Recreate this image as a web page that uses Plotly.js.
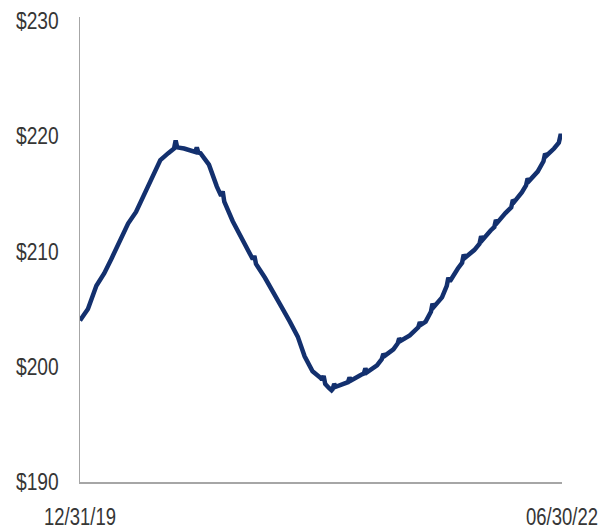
<!DOCTYPE html>
<html>
<head>
<meta charset="utf-8">
<script src="https://cdn.plot.ly/plotly-3.0.1.min.js"></script>
<style>html,body{margin:0;padding:0;background:#fff;}#chart{width:605px;height:531px;}</style>
</head>
<body>
<div id="chart"></div>
<script>
const dates = [
  '2019-12-31','2020-01-15','2020-01-31','2020-02-15','2020-02-29','2020-03-15','2020-03-31',
  '2020-04-15','2020-04-30','2020-05-15','2020-05-31','2020-06-15','2020-06-26','2020-06-29',
  '2020-07-02','2020-07-15','2020-07-31','2020-08-05','2020-08-08','2020-08-11','2020-08-15',
  '2020-08-31','2020-09-15','2020-09-23','2020-09-26','2020-09-29','2020-10-15','2020-10-31',
  '2020-11-15','2020-11-22','2020-11-25','2020-11-28','2020-12-15','2020-12-31','2021-01-15',
  '2021-01-31','2021-02-15','2021-02-28','2021-03-15','2021-03-31','2021-04-02','2021-04-05',
  '2021-04-08','2021-04-15','2021-04-20','2021-04-22','2021-04-25','2021-04-28','2021-05-15',
  '2021-05-21','2021-05-24','2021-05-27','2021-06-15','2021-06-20','2021-06-23','2021-06-26',
  '2021-07-15','2021-07-24','2021-07-27','2021-07-30','2021-08-15','2021-08-23','2021-08-26',
  '2021-08-29','2021-09-15','2021-09-30','2021-10-01','2021-10-04','2021-10-07','2021-10-15',
  '2021-10-25','2021-10-28','2021-10-31','2021-11-15','2021-11-24','2021-11-27','2021-11-30',
  '2021-12-15','2021-12-23','2021-12-26','2021-12-29','2022-01-15','2022-01-25','2022-01-28',
  '2022-01-31','2022-02-15','2022-02-22','2022-02-25','2022-02-28','2022-03-15','2022-03-26',
  '2022-03-29','2022-04-01','2022-04-15','2022-04-23','2022-04-26','2022-04-29','2022-05-15',
  '2022-05-26','2022-05-29','2022-06-01','2022-06-15','2022-06-24','2022-06-27','2022-06-30'
];
const prices = [
  204.0, 205.0, 207.0, 208.1, 209.4, 210.9, 212.4,
  213.4, 214.9, 216.5, 217.9, 218.5, 218.9, 219.6,
  219.0, 218.9, 218.7, 218.6, 219.0, 218.55, 218.5,
  217.5, 215.6, 214.8, 215.2, 214.3, 212.6, 211.2,
  209.8, 209.3, 209.6, 208.9, 207.7, 206.5, 205.2,
  203.9, 202.6, 200.9, 199.6, 199.0, 198.85, 199.2,
  198.5, 198.15, 197.95, 198.05, 198.5, 198.25, 198.5,
  198.65, 199.05, 198.8, 199.3, 199.4, 199.85, 199.5,
  200.1, 200.65, 201.1, 200.95, 201.5, 202.0, 202.45,
  202.25, 202.7, 203.3, 203.4, 203.85, 203.65, 203.9,
  204.75, 205.45, 205.2, 206.0, 207.0, 207.7, 207.4,
  208.5, 209.0, 209.7, 209.45, 210.1, 210.65, 211.3,
  211.0, 211.8, 212.1, 212.7, 212.5, 213.3, 213.8,
  214.45, 214.3, 215.1, 215.7, 216.3, 216.1, 216.9,
  217.8, 218.45, 218.3, 218.9, 219.4, 220.0, 220.0
];
const yTickValues = [190, 200, 210, 220, 230];
const yTickLabels = ['$190', '$200', '$210', '$220', '$230'];
const xTickValues = ['2019-12-31', '2022-06-30'];
const xTickLabels = ['12/31/19', '06/30/22'];

const fontFam = '"Liberation Sans", Arial, sans-serif';
const tickFont = {family: fontFam, size: 24, color: '#363636'};

Plotly.newPlot('chart', [{
  x: dates,
  y: prices,
  type: 'scatter',
  mode: 'lines',
  line: {color: '#13306e', width: 4.5},
  hoverinfo: 'skip'
}], {
  width: 605, height: 531,
  margin: {l: 80, r: 43, t: 17, b: 49, pad: 0},
  paper_bgcolor: '#ffffff', plot_bgcolor: '#ffffff',
  showlegend: false,
  font: tickFont,
  xaxis: {
    type: 'date',
    range: ['2019-12-31', '2022-06-30 01:00'],
    tickvals: xTickValues, ticktext: xTickLabels,
    showgrid: false, zeroline: false,
    showline: true, linecolor: '#a6a6a6', linewidth: 1.5,
    ticks: 'outside', ticklen: 13, tickcolor: 'rgba(0,0,0,0)',
    ticklabeloverflow: 'allow',
    tickfont: tickFont
  },
  yaxis: {
    range: [190, 230.3],
    tickvals: yTickValues, ticktext: yTickLabels,
    showgrid: false, zeroline: false,
    showline: true, linecolor: '#a6a6a6', linewidth: 1.5,
    ticks: 'outside', ticklen: 15, tickcolor: 'rgba(0,0,0,0)',
    tickfont: tickFont
  }
}, {staticPlot: true, displayModeBar: false}).then(function (gd) {
  // horizontally condense tick labels (the original uses a narrow face)
  function condense(sel, s, anchorFrac) {
    gd.querySelectorAll(sel).forEach(function (t) {
      const bb = t.getBBox();
      const cx = bb.x + bb.width * anchorFrac;
      const prev = t.getAttribute('transform') || '';
      t.setAttribute('transform', prev + ' translate(' + cx + ',0) scale(' + s + ',1) translate(' + (-cx) + ',0)');
    });
  }
  condense('g.xtick text', 0.77, 0.5);
  condense('g.ytick text', 0.8, 1.0);
});
</script>
</body>
</html>
